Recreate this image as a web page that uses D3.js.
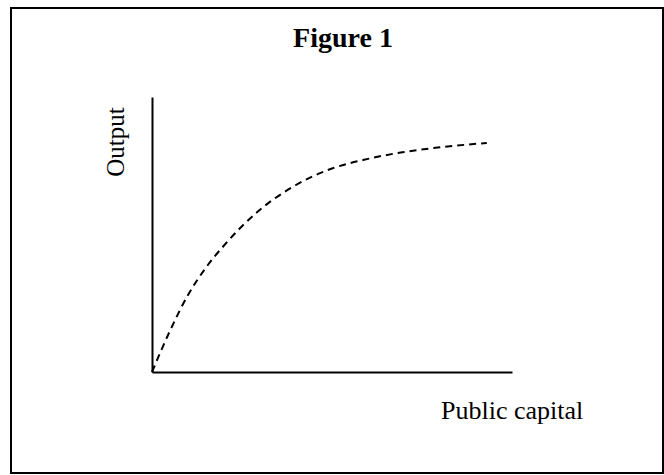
<!DOCTYPE html>
<html>
<head>
<meta charset="utf-8">
<script src="https://cdn.jsdelivr.net/npm/d3@7"></script>
<style>
  html, body { margin: 0; padding: 0; background: #fff; }
  .axis path { stroke: #000; stroke-width: 2; }
  .label { font-family: "Liberation Serif", "Times New Roman", serif; fill: #000; }
</style>
</head>
<body>
<div id="chart"></div>
<script>
// Chart texts.
const titleText = "Figure 1";
const xLabel = "Public capital";
const yLabel = "Output";

// Curve (public capital vs output, arbitrary units 0-100).
const capital = [0, 5, 10, 15, 20, 25, 30, 40, 50, 60, 70, 80, 93];
const output = [0, 15, 28, 38, 46, 53, 59, 68, 74, 77.5, 80, 81.7, 83.3];

// Page size.
const width = 664;
const height = 475;

// Plot area in absolute units.
const plot = { left: 152, top: 97, right: 512, bottom: 372 };

let svg = null;
let xScale = null;
let yScale = null;

function initializeSvg() {
  svg = d3.select("#chart")
    .append("svg")
    .attr("width", width)
    .attr("height", height);

  // Frame round the figure.
  svg.append("rect")
    .attr("x", 11)
    .attr("y", 8)
    .attr("width", 652)
    .attr("height", 465)
    .attr("fill", "none")
    .attr("stroke", "#000")
    .attr("stroke-width", 2);
}

function initializeScales() {
  xScale = d3.scaleLinear()
    .domain([0, 100])
    .range([plot.left, plot.right]);

  yScale = d3.scaleLinear()
    .domain([0, 100])
    .range([plot.bottom, plot.top]);
}

function initializeAxis() {
  // No ticks, only the bare axis lines.
  svg.append("g")
    .attr("class", "axis")
    .attr("transform", `translate(0,${plot.bottom})`)
    .call(d3.axisBottom(xScale).ticks(0).tickSize(0).tickSizeOuter(0));

  svg.append("g")
    .attr("class", "axis")
    .attr("transform", `translate(${plot.left},0)`)
    .call(d3.axisLeft(yScale).ticks(0).tickSize(0).tickSizeOuter(0));

  svg.append("text")
    .attr("class", "label")
    .attr("x", 343)
    .attr("y", 47)
    .attr("text-anchor", "middle")
    .attr("font-size", 28)
    .attr("font-weight", "bold")
    .text(titleText);

  svg.append("text")
    .attr("class", "label")
    .attr("x", 441)
    .attr("y", 419)
    .attr("font-size", 26)
    .text(xLabel);

  svg.append("text")
    .attr("class", "label")
    .attr("text-anchor", "middle")
    .attr("font-size", 25)
    .attr("transform", "translate(124,142)rotate(-90)")
    .text(yLabel);
}

function initializeCurve() {
  const points = capital.map((c, i) => [c, output[i]]);
  const line = d3.line()
    .x((d) => xScale(d[0]))
    .y((d) => yScale(d[1]))
    .curve(d3.curveMonotoneX);

  svg.append("path")
    .datum(points)
    .attr("d", line)
    .attr("fill", "none")
    .attr("stroke", "#000")
    .attr("stroke-width", 2)
    .attr("stroke-dasharray", "7,5");
}

initializeSvg();
initializeScales();
initializeAxis();
initializeCurve();
</script>
</body>
</html>
